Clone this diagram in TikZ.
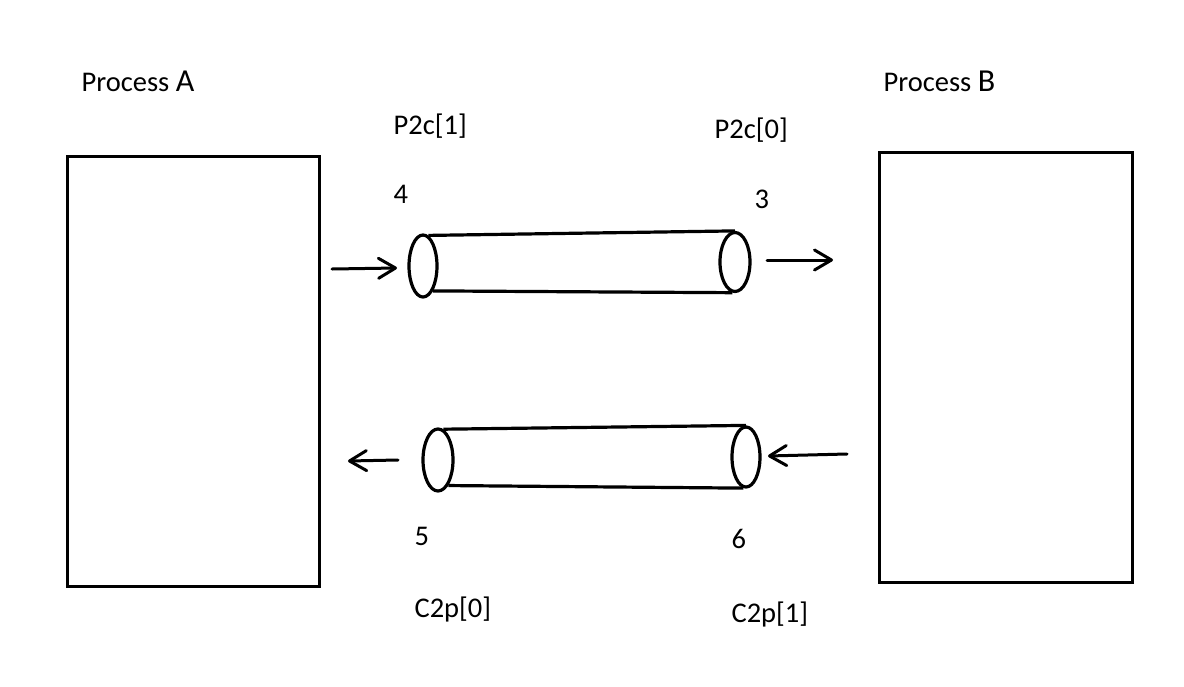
\documentclass[tikz,border=0pt]{standalone}
\usepackage{fontspec}
\setmainfont{Carlito}
\usetikzlibrary{arrows.meta,shapes.geometric}
\begin{document}
\begin{tikzpicture}[x=1pt,y=-1pt,
  line width=3.2pt,
  procbox/.style={draw,line width=2.8pt},
  pipeend/.style={draw,ellipse,inner sep=0pt,line width=3.2pt},
  lbl/.style={anchor=base west,inner sep=0pt,font=\fontsize{28.5}{32}\selectfont},
  flow/.style={line width=3pt,line cap=round,-{Straight Barb[length=17pt,width=20pt,line cap=round,line join=round]}}
]
\useasboundingbox[fill=white] (0,0) rectangle (1184,686);

% process boxes
\node[procbox,anchor=north west,minimum width=252pt,minimum height=430pt,inner sep=0pt] (A) at (66,155) {};
\node[procbox,anchor=north west,minimum width=253pt,minimum height=430pt,inner sep=0pt] (B) at (878,151) {};

% titles
\node[lbl] (tA) at (80,91) {Process {\fontsize{32}{36}\selectfont A}};
\node[lbl] (tB) at (882,91) {Process {\fontsize{32}{36}\selectfont B}};

% top pipe
\node[pipeend,minimum width=28pt,minimum height=62pt] (p1) at (423,266) {};
\node[pipeend,minimum width=30pt,minimum height=59pt] (p2) at (735,262) {};
\draw (p1.80) -- (p2.north);
\draw (p1.-68) -- (p2.-95);

% bottom pipe
\node[pipeend,minimum width=30pt,minimum height=62pt] (q1) at (438,460) {};
\node[pipeend,minimum width=28pt,minimum height=60pt] (q2) at (746,457) {};
\draw (q1.80) -- (q2.north);
\draw (q1.-68) -- (q2.-95);

% arrows
\coordinate (a1s) at (332,269);
\coordinate (a1e) at (397,268);
\coordinate (a2s) at (767,260);
\coordinate (a2e) at (833,260);
\coordinate (a3s) at (398,460);
\coordinate (a3e) at (348,461);
\coordinate (a4s) at (847,454);
\coordinate (a4e) at (768,456);
\draw[flow] (a1s) -- (a1e);
\draw[flow] (a2s) -- (a2e);
\draw[flow] (a3s) -- (a3e);
\draw[flow] (a4s) -- (a4e);

% labels
\node[lbl] (l1) at (392,134) {P2c[1]};
\node[lbl] (l2) at (392,203) {4};
\node[lbl] (l3) at (713,138) {P2c[0]};
\node[lbl] (l4) at (753,208) {3};
\node[lbl] (l5) at (413,545) {5};
\node[lbl] (l6) at (413,617) {C2p[0]};
\node[lbl] (l7) at (730,548) {6};
\node[lbl] (l8) at (730,622) {C2p[1]};
\end{tikzpicture}
\end{document}
